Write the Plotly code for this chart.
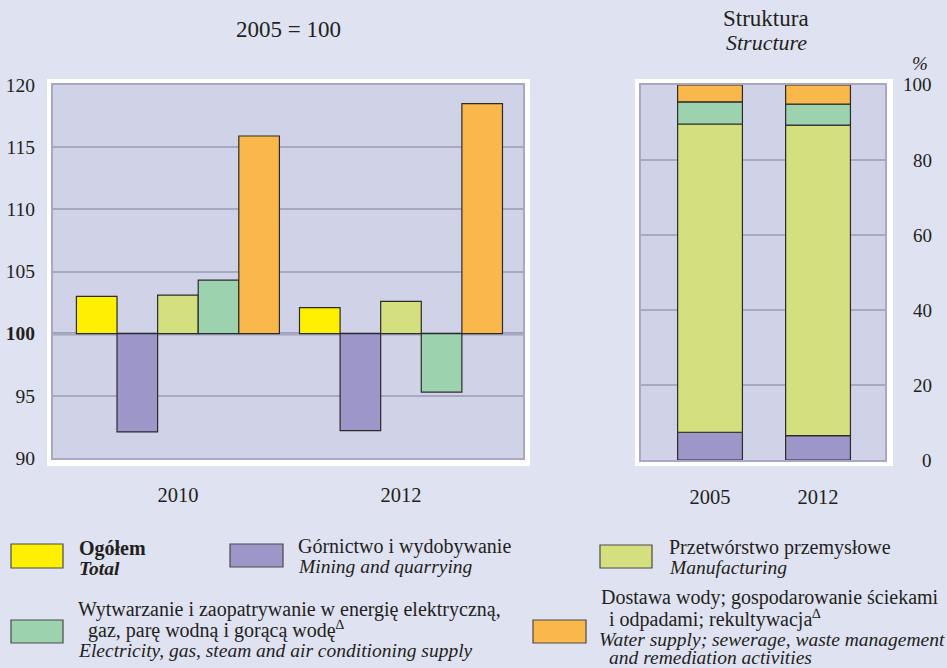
import plotly.graph_objects as go

W, H = 947, 668

# ---------------- data ----------------
index_years = ["2010", "2012"]
total = [103.0, 102.1]
mining = [92.1, 92.2]
manufacturing = [103.1, 102.6]
electricity = [104.3, 95.3]
water = [115.9, 118.5]

structure_years = ["2005", "2012"]
s_mining = [7.4, 6.5]
s_manufacturing = [82.2, 82.8]
s_electricity = [5.9, 5.6]
s_water = [4.5, 5.1]

left_ticks = [90, 95, 100, 105, 110, 115, 120]
right_ticks = [0, 20, 40, 60, 80, 100]

# ---------------- styles ----------------
C_TOTAL = "#FFEF00"
C_MIN = "#9D96C8"
C_MAN = "#D4E07F"
C_ELE = "#9CD3AE"
C_WAT = "#FAB84C"
PAGE_BG = "#DFE2F1"
PLOT_BG = "#D0D2E8"
GRID = "#A8A8C3"
FONT = "'Liberation Serif', 'Times New Roman', 'DejaVu Serif', serif"
TXT = "#231F20"


def px(x):
    return x / W


def py(y):
    return 1 - y / H


fig = go.Figure()

# left: index bars (base 100)
series_left = [
    ("Ogółem", total, C_TOTAL),
    ("Górnictwo", mining, C_MIN),
    ("Przetwórstwo", manufacturing, C_MAN),
    ("Wytwarzanie", electricity, C_ELE),
    ("Dostawa wody", water, C_WAT),
]
xl = list(range(len(index_years)))
for name, vals, col in series_left:
    fig.add_trace(go.Bar(
        x=xl, y=[v - 100 for v in vals], base=[100] * len(vals),
        name=name, marker=dict(color=col, line=dict(color="#2B2B2B", width=1.2)),
        xaxis="x", yaxis="y", showlegend=False,
        customdata=vals, hovertemplate="%{customdata}<extra>" + name + "</extra>",
    ))

# right: structure (stacked via explicit base)
series_right = [
    ("Górnictwo", s_mining, C_MIN),
    ("Przetwórstwo", s_manufacturing, C_MAN),
    ("Wytwarzanie", s_electricity, C_ELE),
    ("Dostawa wody", s_water, C_WAT),
]
xr = list(range(len(structure_years)))
cum = [0.0] * len(structure_years)
for name, vals, col in series_right:
    fig.add_trace(go.Bar(
        x=xr, y=vals, base=list(cum), offsetgroup="s", width=0.6,
        name=name, marker=dict(color=col, line=dict(color="#2B2B2B", width=1.2)),
        xaxis="x2", yaxis="y2", showlegend=False,
    ))
    cum = [c + v for c, v in zip(cum, vals)]

# plot area geometry (pixels)
L_X0, L_X1, L_Y0, L_Y1 = 53, 523, 85, 458
R_X0, R_X1, R_Y0, R_Y1 = 641, 885, 85, 460

shapes = [
    dict(type="rect", xref="paper", yref="paper", x0=px(47), x1=px(530), y0=py(466), y1=py(79),
         fillcolor="white", line=dict(width=0), layer="below"),
    dict(type="rect", xref="paper", yref="paper", x0=px(635), x1=px(893), y0=py(466), y1=py(79),
         fillcolor="white", line=dict(width=0), layer="below"),
    dict(type="rect", xref="paper", yref="paper", x0=px(L_X0), x1=px(L_X1), y0=py(L_Y1), y1=py(L_Y0),
         fillcolor=PLOT_BG, line=dict(width=0), layer="below"),
    dict(type="rect", xref="paper", yref="paper", x0=px(R_X0), x1=px(R_X1), y0=py(R_Y1), y1=py(R_Y0),
         fillcolor=PLOT_BG, line=dict(width=0), layer="below"),
    dict(type="line", xref="x domain", yref="y", x0=0, x1=1, y0=100, y1=100,
         line=dict(color="#A0A0BC", width=3.5), layer="below"),
]

annotations = [
    dict(text="2005 = 100", x=px(288), y=py(30), xref="paper", yref="paper",
         showarrow=False, font=dict(family=FONT, size=23, color=TXT), xanchor="center", yanchor="middle"),
    dict(text="Struktura", x=px(766), y=py(18), xref="paper", yref="paper",
         showarrow=False, font=dict(family=FONT, size=23, color=TXT), xanchor="center", yanchor="middle"),
    dict(text="<i>Structure</i>", x=px(766), y=py(42), xref="paper", yref="paper",
         showarrow=False, font=dict(family=FONT, size=22, color=TXT), xanchor="center", yanchor="middle"),
    dict(text="<i>%</i>", x=px(920), y=py(64), xref="paper", yref="paper",
         showarrow=False, font=dict(family=FONT, size=19, color=TXT), xanchor="center", yanchor="middle"),
]

# right axis tick labels, right-aligned as in the reference
for v in right_ticks:
    annotations.append(dict(text=str(v), x=px(934), y=v, xref="paper", yref="y2", showarrow=False,
                            xanchor="right", yanchor="middle", font=dict(family=FONT, size=19, color=TXT)))

FS_R = 20
FS_I = 19.5
legend_items = [
    (C_TOTAL, (11, 544, 63, 568), [("<b>Ogółem</b>", 77, 548, FS_R), ("<b><i>Total</i></b>", 77, 568, FS_I)]),
    (C_MIN, (230, 544, 283, 567), [("Górnictwo i wydobywanie", 296, 546, FS_R),
                                   ("<i>Mining and quarrying</i>", 296, 566, FS_I)]),
    (C_MAN, (600, 545, 652, 568), [("Przetwórstwo przemysłowe", 667, 547, FS_R),
                                   ("<i>Manufacturing</i>", 667, 567, FS_I)]),
    (C_ELE, (11, 620, 63, 643), [("Wytwarzanie i zaopatrywanie w energię elektryczną,", 76, 609, FS_R),
                                 ("gaz, parę wodną i gorącą wodę<sup>∆</sup>", 86, 629, FS_R),
                                 ("<i>Electricity, gas, steam and air conditioning supply</i>", 76, 650, FS_I)]),
    (C_WAT, (533, 620, 586, 643), [("Dostawa wody; gospodarowanie ściekami", 599, 597, FS_R),
                                   ("i odpadami; rekultywacja<sup>∆</sup>", 607, 618, FS_R),
                                   ("<i>Water supply; sewerage, waste management</i>", 597, 639, FS_I),
                                   ("<i>and remediation activities</i>", 607, 657, FS_I)]),
]
for col, (x0, y0, x1, y1), lines in legend_items:
    shapes.append(dict(type="rect", xref="paper", yref="paper", x0=px(x0), x1=px(x1), y0=py(y1), y1=py(y0),
                       fillcolor=col, line=dict(color="#4A4A4A", width=1.2)))
    for t, lx, ly, fs in lines:
        annotations.append(dict(text=t, x=px(lx), y=py(ly), xref="paper", yref="paper", showarrow=False,
                                xanchor="left", yanchor="middle", font=dict(family=FONT, size=fs, color=TXT)))

left_ticktext = ["<b>100</b>" if v == 100 else str(v) for v in left_ticks]

fig.update_layout(
    width=W, height=H,
    margin=dict(l=0, r=0, t=0, b=0, pad=0),
    paper_bgcolor=PAGE_BG, plot_bgcolor="rgba(0,0,0,0)",
    barmode="group", bargap=0.09, bargroupgap=0,
    font=dict(family=FONT, size=20, color=TXT),
    shapes=shapes, annotations=annotations,
    xaxis=dict(domain=[px(L_X0), px(L_X1)], anchor="y", range=[-0.56, 1.547],
               tickvals=xl, ticktext=index_years, showgrid=False, zeroline=False,
               showline=True, mirror=True, linecolor=GRID, linewidth=2, automargin=False,
               ticks="outside", ticklen=17, tickcolor="rgba(0,0,0,0)", tickfont=dict(size=20.5)),
    yaxis=dict(domain=[py(L_Y1), py(L_Y0)], anchor="x", range=[90, 120],
               tickvals=left_ticks, ticktext=left_ticktext, showgrid=True, gridcolor=GRID, gridwidth=2,
               zeroline=False, showline=True, mirror=True, linecolor=GRID, linewidth=2, automargin=False,
               ticks="outside", ticklen=12, tickcolor="rgba(0,0,0,0)", tickfont=dict(size=19.5)),
    xaxis2=dict(domain=[px(R_X0), px(R_X1)], anchor="y2", range=[-0.639, 1.62],
                tickvals=xr, ticktext=structure_years, showgrid=False, zeroline=False,
                showline=True, mirror=True, linecolor=GRID, linewidth=2, automargin=False,
                ticks="outside", ticklen=17, tickcolor="rgba(0,0,0,0)", tickfont=dict(size=20.5)),
    yaxis2=dict(domain=[py(R_Y1), py(R_Y0)], anchor="x2", range=[0, 100], side="right",
                tickvals=right_ticks, showgrid=True, gridcolor=GRID, gridwidth=2, showticklabels=False,
                zeroline=False, showline=True, mirror=True, linecolor=GRID, linewidth=2, automargin=False),
)

fig.write_html(
    "out.html",
    config={"displayModeBar": False},
    post_script="document.body.style.margin='0';document.body.style.overflow='hidden';",
)
